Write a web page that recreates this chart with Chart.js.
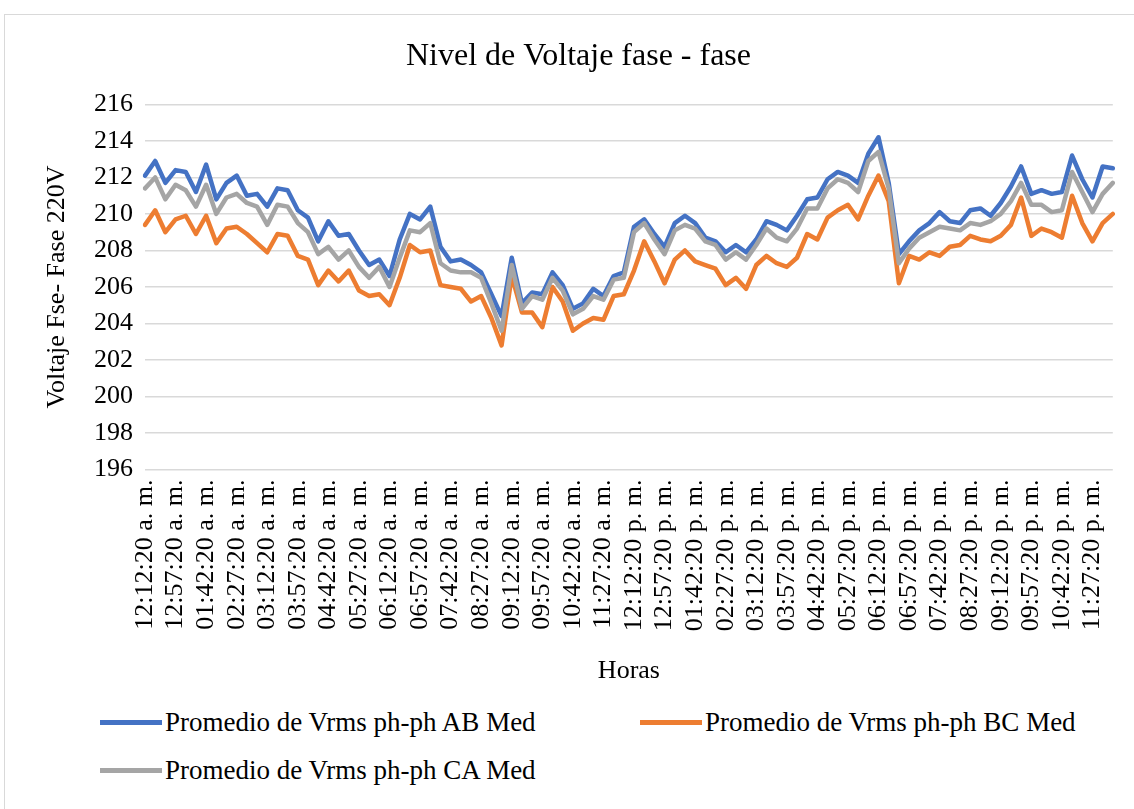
<!DOCTYPE html>
<html>
<head>
<meta charset="utf-8">
<script src="https://cdn.jsdelivr.net/npm/chart.js@4/dist/chart.umd.min.js"></script>
<style>
  body { margin: 0; background: #fff; font-family: 'Liberation Serif', 'Times New Roman', serif; }
  #frame { position: absolute; left: 4px; top: 14px; width: 1140px; height: 800px; border: 1px solid #d9d9d9; }
  #wrap { position: absolute; left: 0; top: 0; width: 1134px; height: 700px; }
  #legend { position: absolute; left: 0; top: 700px; width: 1134px; height: 109px; }
  .item { position: absolute; display: flex; align-items: center; font-size: 27px; color: #000; white-space: nowrap; }
  .item span.swatch { display: inline-block; width: 62px; height: 5px; margin-right: 3px; }
</style>
</head>
<body>
<div id="frame"></div>
<div id="wrap"><canvas id="chart"></canvas></div>
<div id="legend"></div>
<script>
// Horas (every 15 min)
const horas = [
  '12:12:20 a. m.','12:27:20 a. m.','12:42:20 a. m.','12:57:20 a. m.',
  '01:12:20 a. m.','01:27:20 a. m.','01:42:20 a. m.','01:57:20 a. m.',
  '02:12:20 a. m.','02:27:20 a. m.','02:42:20 a. m.','02:57:20 a. m.',
  '03:12:20 a. m.','03:27:20 a. m.','03:42:20 a. m.','03:57:20 a. m.',
  '04:12:20 a. m.','04:27:20 a. m.','04:42:20 a. m.','04:57:20 a. m.',
  '05:12:20 a. m.','05:27:20 a. m.','05:42:20 a. m.','05:57:20 a. m.',
  '06:12:20 a. m.','06:27:20 a. m.','06:42:20 a. m.','06:57:20 a. m.',
  '07:12:20 a. m.','07:27:20 a. m.','07:42:20 a. m.','07:57:20 a. m.',
  '08:12:20 a. m.','08:27:20 a. m.','08:42:20 a. m.','08:57:20 a. m.',
  '09:12:20 a. m.','09:27:20 a. m.','09:42:20 a. m.','09:57:20 a. m.',
  '10:12:20 a. m.','10:27:20 a. m.','10:42:20 a. m.','10:57:20 a. m.',
  '11:12:20 a. m.','11:27:20 a. m.','11:42:20 a. m.','11:57:20 a. m.',
  '12:12:20 p. m.','12:27:20 p. m.','12:42:20 p. m.','12:57:20 p. m.',
  '01:12:20 p. m.','01:27:20 p. m.','01:42:20 p. m.','01:57:20 p. m.',
  '02:12:20 p. m.','02:27:20 p. m.','02:42:20 p. m.','02:57:20 p. m.',
  '03:12:20 p. m.','03:27:20 p. m.','03:42:20 p. m.','03:57:20 p. m.',
  '04:12:20 p. m.','04:27:20 p. m.','04:42:20 p. m.','04:57:20 p. m.',
  '05:12:20 p. m.','05:27:20 p. m.','05:42:20 p. m.','05:57:20 p. m.',
  '06:12:20 p. m.','06:27:20 p. m.','06:42:20 p. m.','06:57:20 p. m.',
  '07:12:20 p. m.','07:27:20 p. m.','07:42:20 p. m.','07:57:20 p. m.',
  '08:12:20 p. m.','08:27:20 p. m.','08:42:20 p. m.','08:57:20 p. m.',
  '09:12:20 p. m.','09:27:20 p. m.','09:42:20 p. m.','09:57:20 p. m.',
  '10:12:20 p. m.','10:27:20 p. m.','10:42:20 p. m.','10:57:20 p. m.',
  '11:12:20 p. m.','11:27:20 p. m.','11:42:20 p. m.','11:57:20 p. m.'
];

// Promedio de Vrms ph-ph AB Med
const vAB = [
  212.1, 212.9, 211.7, 212.4, 212.3, 211.2, 212.7, 210.8, 211.7, 212.1, 211.0, 211.1, 210.4, 211.4, 211.3, 210.2,
  209.8, 208.5, 209.6, 208.8, 208.9, 208.0, 207.2, 207.5, 206.6, 208.6, 210.0, 209.7, 210.4, 208.2, 207.4, 207.5,
  207.2, 206.8, 205.6, 204.4, 207.6, 205.1, 205.7, 205.6, 206.8, 206.1, 204.8, 205.1, 205.9, 205.5, 206.6, 206.8,
  209.3, 209.7, 208.9, 208.2, 209.5, 209.9, 209.5, 208.7, 208.5, 207.9, 208.3, 207.9, 208.6, 209.6, 209.4,
  209.1, 209.9, 210.8, 210.9, 211.9, 212.3, 212.1, 211.7, 213.3, 214.2, 211.7, 207.8, 208.5, 209.1, 209.5, 210.1,
  209.6, 209.5, 210.2, 210.3, 209.9, 210.6, 211.5, 212.6, 211.1, 211.3, 211.1, 211.2, 213.2, 211.9, 210.9, 212.6, 212.5
];

// Promedio de Vrms ph-ph BC Med
const vBC = [
  209.4, 210.2, 209.0, 209.7, 209.9, 208.9, 209.9, 208.4, 209.2, 209.3, 208.9, 208.4, 207.9, 208.9, 208.8, 207.7,
  207.5, 206.1, 206.9, 206.3, 206.9, 205.8, 205.5, 205.6, 205.0, 206.5, 208.3, 207.9, 208.0, 206.1, 206.0, 205.9,
  205.2, 205.5, 204.3, 202.8, 206.6, 204.6, 204.6, 203.8, 206.0, 205.2, 203.6, 204.0, 204.3, 204.2, 205.5, 205.6,
  206.9, 208.5, 207.4, 206.2, 207.5, 208.0, 207.4, 207.2, 207.0, 206.1, 206.5, 205.9, 207.2, 207.7, 207.3,
  207.1, 207.6, 208.9, 208.6, 209.8, 210.2, 210.5, 209.7, 211.0, 212.1, 210.7, 206.2, 207.7, 207.5, 207.9, 207.7,
  208.2, 208.3, 208.8, 208.6, 208.5, 208.8, 209.4, 210.9, 208.8, 209.2, 209.0, 208.7, 211.0, 209.5, 208.5, 209.5, 210.0
];

// Promedio de Vrms ph-ph CA Med
const vCA = [
  211.4, 212.0, 210.8, 211.6, 211.3, 210.4, 211.6, 210.0, 210.9, 211.1, 210.6, 210.4, 209.4, 210.5, 210.4, 209.5,
  209.0, 207.8, 208.2, 207.5, 208.0, 207.1, 206.5, 207.1, 206.0, 207.6, 209.1, 209.0, 209.5, 207.3, 206.9, 206.8,
  206.8, 206.5, 205.1, 203.6, 207.2, 204.8, 205.5, 205.3, 206.5, 205.8, 204.5, 204.8, 205.5, 205.3, 206.4, 206.5,
  209.0, 209.5, 208.6, 207.8, 209.1, 209.4, 209.2, 208.5, 208.3, 207.5, 207.9, 207.5, 208.3, 209.2, 208.7,
  208.5, 209.2, 210.3, 210.3, 211.4, 211.9, 211.7, 211.2, 212.9, 213.4, 211.4, 207.3, 208.1, 208.7, 209.0, 209.3,
  209.2, 209.1, 209.5, 209.4, 209.6, 210.0, 210.7, 211.7, 210.5, 210.5, 210.1, 210.2, 212.3, 211.2, 210.1, 211.1, 211.7
];

const seriesNames = ['Promedio de Vrms ph-ph AB Med', 'Promedio de Vrms ph-ph BC Med', 'Promedio de Vrms ph-ph CA Med'];
const seriesColors = ['#4472C4', '#ED7D31', '#A5A5A5'];
const yTicks = { min: 196, max: 216, step: 2 };

const FONT = "'Liberation Serif', 'Times New Roman', serif";
const TXT = '#000000';

function makeSet(i, data, order) {
  return {
    label: seriesNames[i],
    data: data,
    borderColor: seriesColors[i],
    backgroundColor: seriesColors[i],
    borderWidth: 4.5,
    borderCapStyle: 'round',
    borderJoinStyle: 'round',
    pointRadius: 0,
    tension: 0,
    order: order
  };
}

const ctx = document.getElementById('chart').getContext('2d');
new Chart(ctx, {
  type: 'line',
  data: {
    labels: horas,
    datasets: [makeSet(0, vAB, 3), makeSet(1, vBC, 2), makeSet(2, vCA, 1)]
  },
  options: {
    responsive: true,
    maintainAspectRatio: false,
    animation: false,
    layout: { padding: { left: 40, right: 17, top: 0, bottom: 0 } },
    plugins: {
      legend: { display: false },
      tooltip: { enabled: false },
      title: {
        display: true,
        text: 'Nivel de Voltaje fase - fase',
        color: TXT,
        font: { family: FONT, size: 32, weight: 'normal' },
        padding: { top: 37, bottom: 29 }
      }
    },
    scales: {
      x: {
        offset: false,
        grid: { display: false, drawTicks: false },
        border: { display: false },
        ticks: {
          autoSkip: false,
          maxRotation: 90,
          minRotation: 90,
          padding: 10,
          color: TXT,
          font: { family: FONT, size: 26 },
          callback: function (v, i) { return i % 3 === 0 ? horas[i] : null; }
        },
        title: {
          display: true,
          text: 'Horas',
          color: TXT,
          font: { family: FONT, size: 26 },
          padding: { top: 0, bottom: 13 }
        },
        afterFit: function (s) { s.height = 230.5; }
      },
      y: {
        min: yTicks.min,
        max: yTicks.max,
        grid: { color: '#d9d9d9', lineWidth: 1.5, drawTicks: false },
        border: { display: false },
        ticks: {
          stepSize: yTicks.step,
          padding: 12,
          color: TXT,
          font: { family: FONT, size: 26 }
        },
        title: {
          display: true,
          text: 'Voltaje Fse- Fase 220V',
          color: TXT,
          font: { family: FONT, size: 26 },
          padding: { top: 2, bottom: 0 }
        },
        afterFit: function (s) { s.width = 105; }
      }
    }
  }
});

// Legend, Excel-style two columns
const legendPos = [[100, 22], [640, 22], [100, 70]];
const legend = document.getElementById('legend');
seriesNames.forEach((name, i) => {
  const d = document.createElement('div');
  d.className = 'item';
  d.style.left = legendPos[i][0] + 'px';
  d.style.top = (legendPos[i][1] - 16) + 'px';
  d.style.height = '32px';
  d.innerHTML = '<span class="swatch" style="background:' + seriesColors[i] + '"></span>' + name;
  legend.appendChild(d);
});
</script>
</body>
</html>
